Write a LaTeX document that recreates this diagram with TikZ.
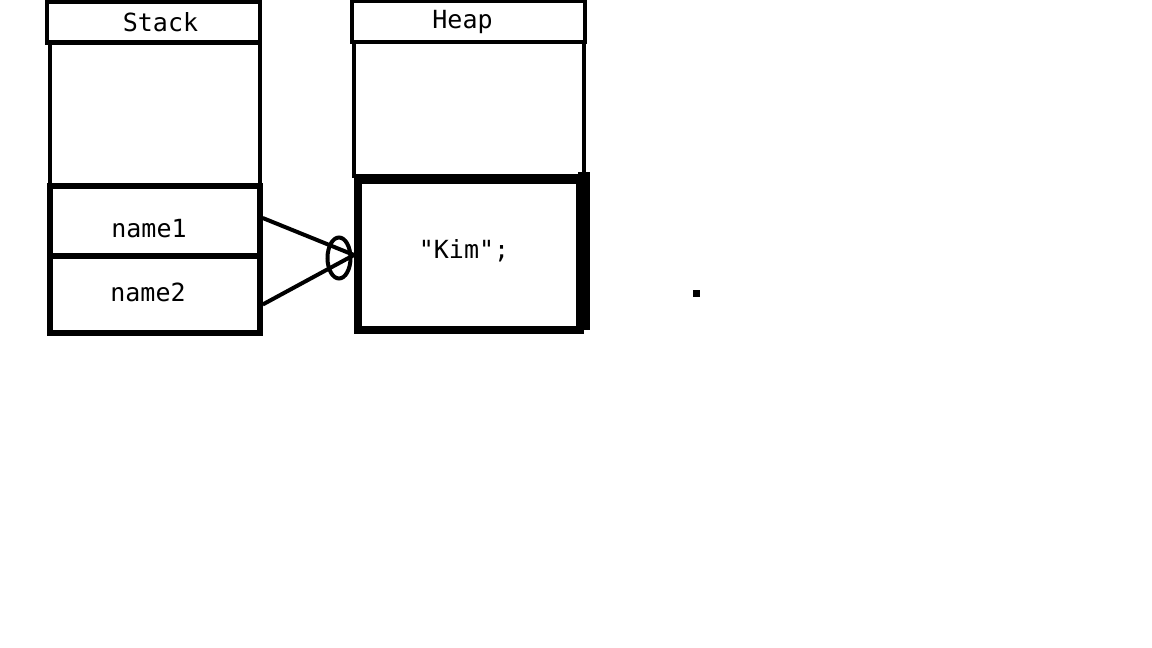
\documentclass[tikz,border=0pt]{standalone}
\usepackage{fontspec}
\setmonofont{DejaVu Sans Mono}
\usepackage{tikz}
\usetikzlibrary{positioning, calc, shapes}

\begin{document}
\begin{tikzpicture}[x=1pt, y=-1pt,
        cell/.style={draw, rectangle, inner sep=0pt, line width=4.5pt},
        txt/.style={inner sep=0pt, font=\ttfamily\fontsize{25}{29}\selectfont},
        link/.style={line width=4pt}]
        \useasboundingbox (0,0) rectangle (1152,648);
        
        % Stack
        \node[cell, minimum width=213pt, minimum height=41pt] (stackhead) at (153.5,22) {};
        \node[cell, minimum width=210pt, minimum height=143pt] (stackfree) at (155,114.5) {};
        \node[cell, line width=5.5pt, minimum width=210pt, minimum height=70pt] (name1) at (155,221) {};
        \node[cell, line width=5.5pt, minimum width=210pt, minimum height=77pt] (name2) at (155,294.5) {};
        \node[txt] (stacklbl) at ($(stackhead)+(7,0)$) {Stack};
        \node[txt] (name1lbl) at ($(name1)+(-6,8)$) {name1};
        \node[txt] (name2lbl) at ($(name2)+(-7,-2)$) {name2};
        
        % Heap
        \node[cell, minimum width=233pt, minimum height=41pt] (heaphead) at (468.5,21.5) {};
        \node[cell, minimum width=230pt, minimum height=134pt] (heapfree) at (469,109) {};
        \node[cell, line width=8pt, minimum width=222pt, minimum height=150pt] (kim) at (469,255) {};
        \draw[line width=12pt] (kim.north east) ++(0,-4) -- ([yshift=4pt]kim.south east);
        \node[txt] (heaplbl) at ($(heaphead)+(-6,0)$) {Heap};
        \node[txt] (kimlbl) at ($(kim)+(-5,-4)$) {"Kim";};
        
        % References
        \node[draw, ellipse, line width=4pt, minimum width=23pt, minimum height=41pt, inner sep=0pt] (ring) at (339,258) {};
        \draw[link] ($(name1.east)+(0,-3)$) -- (kim.west);
        \draw[link] ($(name2.east)+(0,10)$) -- (kim.west);
        
        \node[fill, inner sep=0pt, minimum size=7pt] (dot) at (696,293) {};
    \end{tikzpicture}
\end{document}
